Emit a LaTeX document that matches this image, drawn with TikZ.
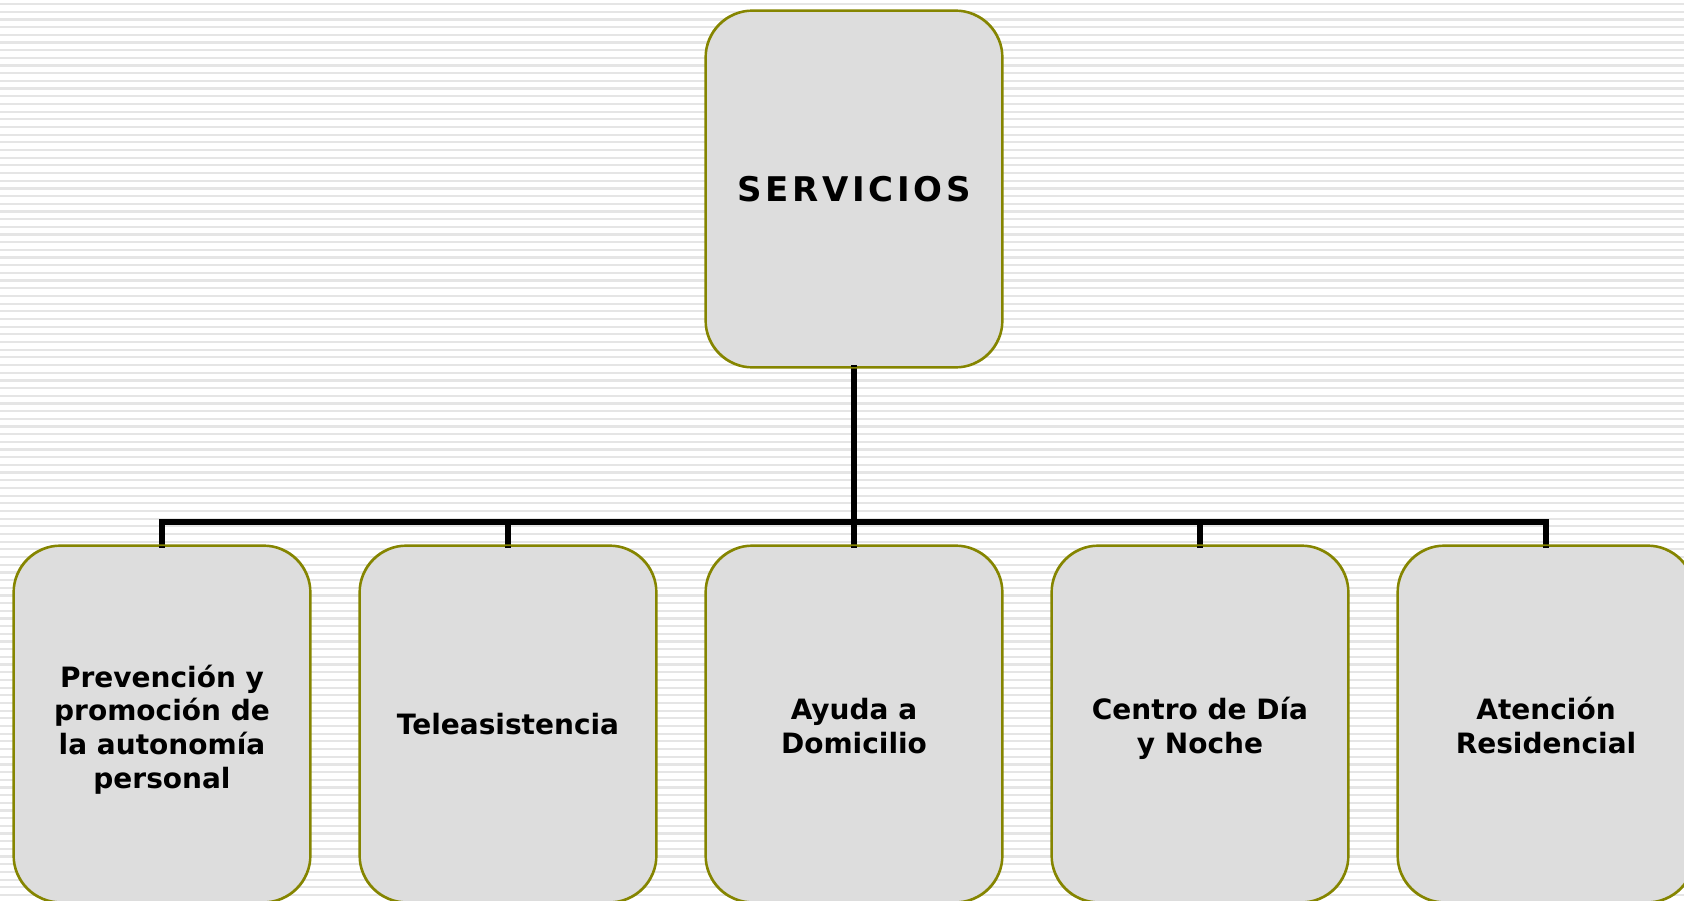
\documentclass[tikz,border=0pt]{standalone}
\usepackage{fontspec}
\setmainfont{DejaVu Sans}
\newfontfamily\spacedfont[LetterSpace=11]{DejaVu Sans}
\definecolor{boxfill}{HTML}{DDDDDD}
\definecolor{boxline}{HTML}{858500}
\definecolor{stripe}{HTML}{E5E5E5}
\tikzset{
  svcbox/.style={draw=boxline, fill=boxfill, line width=1.6pt, rounded corners=47pt,
    minimum width=296pt, minimum height=356pt, inner sep=0pt, align=center,
    font=\fontsize{28}{33.6}\selectfont\bfseries},
  bus/.style={draw=black, line width=5.6pt, line join=miter, line cap=rect},
}
\newcommand{\lowered}[2]{\raisebox{-#1}[\height][\depth]{\begin{tabular}{@{}c@{}}#2\end{tabular}}}
\begin{document}
\begin{tikzpicture}[x=1pt,y=-1pt]
\useasboundingbox (0,0) rectangle (1684,901);
\clip (0,0) rectangle (1684,901);
\fill[white] (0,0) rectangle (1684,901);
\foreach \k in {0,...,117} {
  \fill[stripe] (0,{3+7.68*\k}) rectangle (1684,{5.2+7.68*\k});
}
\coordinate (busy) at (0,522);
\node[svcbox] (top) at (854,189) {\fontsize{34}{40}\spacedfont\bfseries SERVICIOS};
\node[svcbox] (c1) at (162,724) {\lowered{7pt}{Prevención y\\promoción de\\la autonomía\\personal}};
\node[svcbox] (c2) at (508,724) {Teleasistencia};
\node[svcbox] (c3) at (854,724) {\lowered{6pt}{Ayuda a\\Domicilio}};
\node[svcbox] (c4) at (1200,724) {\lowered{6pt}{Centro de Día\\y Noche}};
\node[svcbox] (c5) at (1546,724) {\lowered{6pt}{Atención\\Residencial}};
\draw[bus] (top.south) -- (c3.north);
\draw[bus] (c1.north) -- (c1.north |- busy) -- (c5.north |- busy) -- (c5.north);
\draw[bus] (c2.north) -- (c2.north |- busy);
\draw[bus] (c4.north) -- (c4.north |- busy);
\foreach \n in {top,c1,c2,c3,c4,c5} {
  \draw[boxline, line width=1.6pt, rounded corners=47pt] (\n.south west) rectangle (\n.north east);
}
\end{tikzpicture}
\end{document}
